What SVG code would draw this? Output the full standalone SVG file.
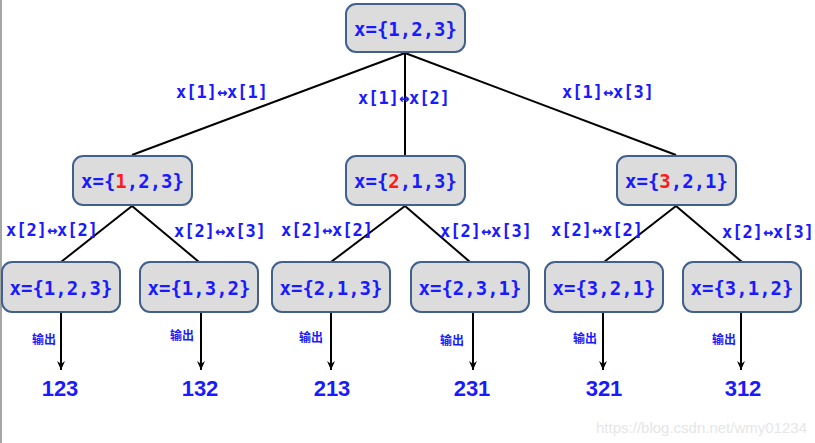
<svg xmlns="http://www.w3.org/2000/svg" width="815" height="443" viewBox="0 0 815 443">
<style>
.node rect{fill:#dcdcdc;stroke:#41608c;stroke-width:2}
.nt{font-family:"DejaVu Sans Mono","Liberation Mono",monospace;font-weight:bold;font-size:19px;fill:#1a1aff;text-anchor:middle}
.red{fill:#ff1a1a}
.el{font-family:"DejaVu Sans Mono","Liberation Mono",monospace;font-weight:bold;font-size:17px;fill:#1a1aff;text-anchor:middle}
.out{font-family:"Noto Sans CJK SC",sans-serif;font-weight:bold;font-size:12px;fill:#1a1aff;text-anchor:middle}
.res{font-family:"Liberation Sans",Arial,sans-serif;font-weight:bold;font-size:22px;fill:#1a1aff;text-anchor:middle}
.conn line{stroke:#000;stroke-width:2}
</style>
<defs>
<marker id="ah" markerWidth="10" markerHeight="10" refX="9" refY="5" orient="auto" markerUnits="userSpaceOnUse">
<path d="M0,1 L9,5 L0,9 L3,5 Z" fill="#000"/>
</marker>
</defs>
<rect width="815" height="443" fill="#fff"/>
<line x1="1" y1="0" x2="1" y2="443" stroke="#888" stroke-width="1.5"/>
<g id="connectors" class="conn">
<line x1="405" y1="53" x2="132" y2="155"/>
<line x1="405" y1="53" x2="405" y2="155"/>
<line x1="405" y1="53" x2="676" y2="155"/>
<line x1="132" y1="206" x2="61" y2="262"/>
<line x1="132" y1="206" x2="199" y2="262"/>
<line x1="405" y1="206" x2="331" y2="262"/>
<line x1="405" y1="206" x2="470" y2="262"/>
<line x1="676" y1="206" x2="604" y2="262"/>
<line x1="676" y1="206" x2="742" y2="262"/>
<line x1="61" y1="313" x2="61" y2="370" marker-end="url(#ah)"/>
<line x1="201" y1="313" x2="201" y2="370" marker-end="url(#ah)"/>
<line x1="331" y1="313" x2="331" y2="370" marker-end="url(#ah)"/>
<line x1="473" y1="313" x2="473" y2="370" marker-end="url(#ah)"/>
<line x1="603" y1="313" x2="603" y2="370" marker-end="url(#ah)"/>
<line x1="741" y1="313" x2="741" y2="370" marker-end="url(#ah)"/>
</g>
<g id="edge-labels">
<text class="el" x="222" y="98">x[1]↔x[1]</text>
<text class="el" x="404" y="104">x[1]↔x[2]</text>
<text class="el" x="608" y="98">x[1]↔x[3]</text>
<text class="el" x="52" y="236">x[2]↔x[2]</text>
<text class="el" x="220" y="237">x[2]↔x[3]</text>
<text class="el" x="327" y="236">x[2]↔x[2]</text>
<text class="el" x="486" y="237">x[2]↔x[3]</text>
<text class="el" x="597" y="236">x[2]↔x[2]</text>
<text class="el" x="768" y="238">x[2]↔x[3]</text>
</g>
<g id="n-root" class="node"><rect x="346" y="4" width="119" height="48" rx="10"/><text class="nt" x="405.5" y="36">x={1,2,3}</text></g>
<g id="n-a" class="node"><rect x="73" y="156" width="119" height="49" rx="10"/><text class="nt" x="132.5" y="188">x={<tspan class="red">1</tspan>,2,3}</text></g>
<g id="n-b" class="node"><rect x="346" y="156" width="119" height="49" rx="10"/><text class="nt" x="405.5" y="188">x={<tspan class="red">2</tspan>,1,3}</text></g>
<g id="n-c" class="node"><rect x="617" y="156" width="119" height="49" rx="10"/><text class="nt" x="676.5" y="188">x={<tspan class="red">3</tspan>,2,1}</text></g>
<g id="n-a1" class="node"><rect x="2" y="262" width="118" height="50" rx="10"/><text class="nt" x="61" y="295">x={1,2,3}</text></g>
<g id="n-a2" class="node"><rect x="140" y="262" width="118" height="50" rx="10"/><text class="nt" x="199" y="295">x={1,3,2}</text></g>
<g id="n-b1" class="node"><rect x="272" y="262" width="118" height="50" rx="10"/><text class="nt" x="331" y="295">x={2,1,3}</text></g>
<g id="n-b2" class="node"><rect x="411" y="262" width="118" height="50" rx="10"/><text class="nt" x="470" y="295">x={2,3,1}</text></g>
<g id="n-c1" class="node"><rect x="545" y="262" width="118" height="50" rx="10"/><text class="nt" x="604" y="295">x={3,2,1}</text></g>
<g id="n-c2" class="node"><rect x="683" y="262" width="118" height="50" rx="10"/><text class="nt" x="742" y="295">x={3,1,2}</text></g>
<g id="outputs">
<text class="out" x="44" y="344">输出</text>
<text class="out" x="182" y="340">输出</text>
<text class="out" x="311" y="342">输出</text>
<text class="out" x="452" y="345">输出</text>
<text class="out" x="585" y="343">输出</text>
<text class="out" x="724" y="344">输出</text>
<text class="res" x="60" y="396">123</text>
<text class="res" x="200" y="396">132</text>
<text class="res" x="332" y="396">213</text>
<text class="res" x="472" y="396">231</text>
<text class="res" x="604" y="396">321</text>
<text class="res" x="743" y="396">312</text>
</g>
<text x="807" y="433" font-family="Liberation Sans,Arial,sans-serif" font-size="15" fill="#e6e6e6" text-anchor="end">https://blog.csdn.net/wmy01234</text>
</svg>
